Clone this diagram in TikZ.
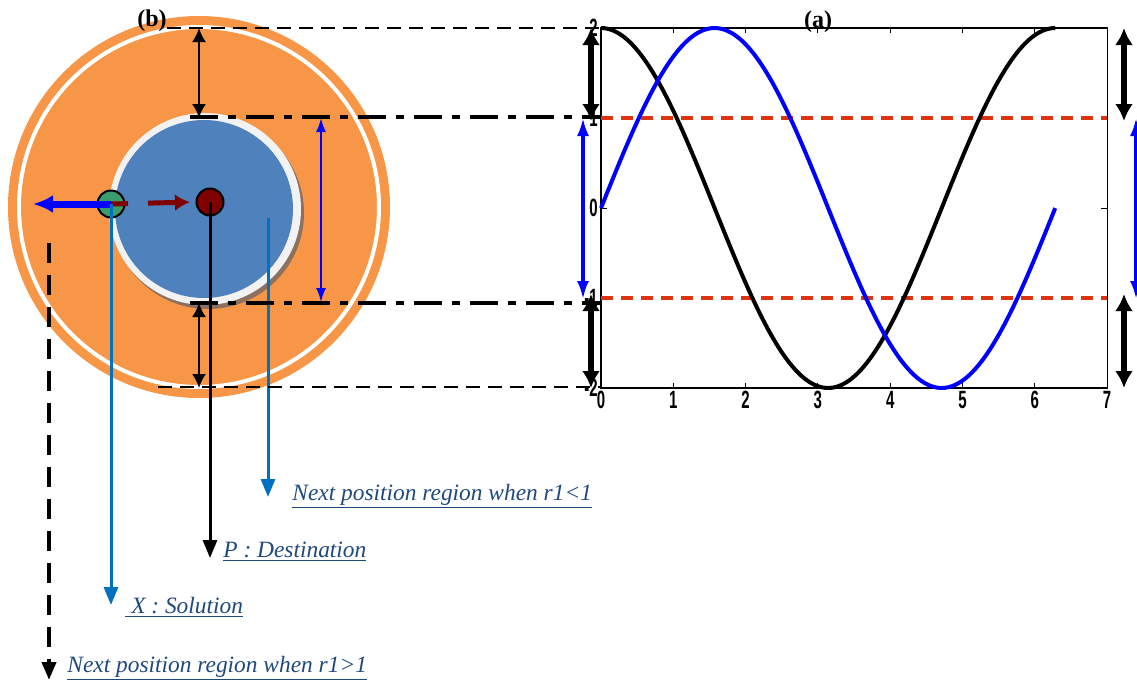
\documentclass[tikz,border=0pt]{standalone}
\usepackage{fontspec}
\setmainfont{Liberation Serif}
\newfontfamily\tickfont{Liberation Sans}[FakeStretch=0.6]
\usepackage{xcolor}
\usepackage{tikz}
\usetikzlibrary{arrows.meta}

\definecolor{ringorange}{RGB}{247,150,70}
\definecolor{discblue}{RGB}{79,129,189}
\definecolor{discring}{RGB}{242,242,242}
\definecolor{discshadow}{RGB}{140,112,96}
\definecolor{solgreen}{RGB}{58,157,107}
\definecolor{destred}{RGB}{128,0,0}
\definecolor{pointerblue}{RGB}{0,112,192}
\definecolor{labelblue}{RGB}{31,73,125}
\definecolor{boundred}{RGB}{221,51,17}

\tikzset{
  agent/.style={circle, draw=black, line width=1pt, inner sep=0pt, minimum size=13.5pt},
  callout/.style={anchor=base west, inner sep=0pt, text=labelblue, font=\fontsize{11.7}{14}\selectfont\itshape},
  pointer/.style={line width=1.5pt, -{Triangle[length=9pt,width=7pt]}},
  dimarrow/.style={line width=1pt, {Latex[length=7pt,width=7pt]}-{Latex[length=7pt,width=7pt]}},
  bigdim/.style={line width=3pt, {Latex[length=8.5pt,width=9pt]}-{Latex[length=8.5pt,width=9pt]}},
  bluedim/.style={blue, line width=1.6pt, {Latex[length=9pt,width=6pt]}-{Latex[length=9pt,width=6pt]}},
  guide/.style={line width=0.9pt, dash pattern=on 7pt off 4pt},
  dotguide/.style={line width=2pt, dash pattern=on 14pt off 5pt on 4pt off 5pt},
  ticklabel/.style={font=\fontsize{12.5}{14}\selectfont\tickfont\bfseries, inner sep=1.5pt}
}

\begin{document}
\begin{tikzpicture}[x=0.5pt,y=-0.5pt]
\useasboundingbox (0,0) rectangle (1137,681);

% (b) search region
\fill[ringorange] (199,207) circle[radius=191];
\draw[white, line width=2pt] (199,207) circle[radius=180];
\fill[discshadow] (208,213) circle[radius=96];
\fill[discring] (205,209) circle[radius=96];
\fill[discblue] (204,209) circle[radius=89];
\node[font=\fontsize{12}{14}\selectfont\bfseries] (blabel) at (152,21) {(b)};

\node[agent, fill=solgreen] (sol) at (111,204) {};
\node[agent, fill=destred] (dest) at (210,202) {};
\coordinate (wide) at (33,204);
\draw[blue, line width=3.5pt, -{Latex[length=10pt,width=9pt]}] (sol.center) -- (wide);
\draw[destred, line width=2.5pt, dash pattern=on 8.5pt off 10pt on 40pt off 0pt,
      -{Latex[length=7.5pt,width=8.5pt]}, shorten >=2.8pt] (sol.center) -- (dest.west);

% pointers to the labels
\coordinate (innerpt) at (268,218);
\coordinate (innerend) at (268,497);
\coordinate (destend) at (210,558);
\coordinate (solend) at (111,605);
\coordinate (outerpt) at (49,243);
\coordinate (outerend) at (49,680);
\draw[pointerblue, pointer] (innerpt) -- (innerend);
\draw[black, pointer] (dest.center) -- (destend);
\draw[pointerblue, pointer] (sol.center) -- (solend);
\draw[black, line width=2pt, dash pattern=on 10pt off 6pt, -{Triangle[length=9pt,width=7pt]}] (outerpt) -- (outerend);
\node[callout] (innerlabel) at (292,500) {\underline{Next position region when r1<1}};
\node[callout] (destlabel) at (223,557) {\underline{P : Destination}};
\node[callout] (sollabel) at (125,613) {\underline{ X : Solution}};
\node[callout] (outerlabel) at (67,672) {\underline{Next position region when r1>1}};

% guides between (b) and (a)
\draw[guide] (167,28) -- (601,28);
\draw[dotguide] (190,117) -- (601,117);
\draw[dotguide] (190,303) -- (601,303);
\draw[guide] (158,387) -- (601,387);
\draw[dimarrow] (199,28) -- (199,118);
\draw[dimarrow] (199,303) -- (199,388);
\draw[bluedim, line width=1pt, {Latex[length=7pt,width=5pt]}-{Latex[length=7pt,width=5pt]}] (321,118) -- (321,302);

% (a) plot
\begin{scope}[shift={(601,208)}, x=36.15pt, y=45pt]
  \draw[line width=0.6pt] (0,-2) rectangle (7,2);
  \foreach \t in {1,...,6} {
    \draw[line width=0.5pt] (\t,-2) -- ++(0,0.06) (\t,2) -- ++(0,-0.06);
  }
  \foreach \t in {-2,...,2} {
    \draw[line width=0.5pt] (0,\t) -- ++(0.08,0) (7,\t) -- ++(-0.08,0);
    \node[ticklabel, left] at (0,\t) {\t};
  }
  \foreach \t in {0,...,7} {
    \node[ticklabel, below] at (\t,-2) {\t};
  }
  \draw[boundred, line width=1.6pt, dash pattern=on 6pt off 4pt] (0,1) -- (7,1);
  \draw[boundred, line width=1.6pt, dash pattern=on 6pt off 4pt] (0,-1) -- (7,-1);
  \draw[black, line width=2pt, domain=0:6.2832, samples=120, smooth] plot (\x, {2*cos(\x r)});
  \draw[blue, line width=2pt, domain=0:6.2832, samples=120, smooth] plot (\x, {2*sin(\x r)});
\end{scope}
\node[font=\fontsize{12}{14}\selectfont\bfseries] (alabel) at (818,22) {(a)};

\draw[bigdim] (591,28) -- (591,121);
\draw[bigdim] (591,294) -- (591,388);
\draw[bluedim] (583,118) -- (583,299);
\draw[bigdim] (1124,28) -- (1124,121);
\draw[bigdim] (1124,294) -- (1124,388);
\draw[bluedim] (1136,118) -- (1136,299);
\end{tikzpicture}
\end{document}
